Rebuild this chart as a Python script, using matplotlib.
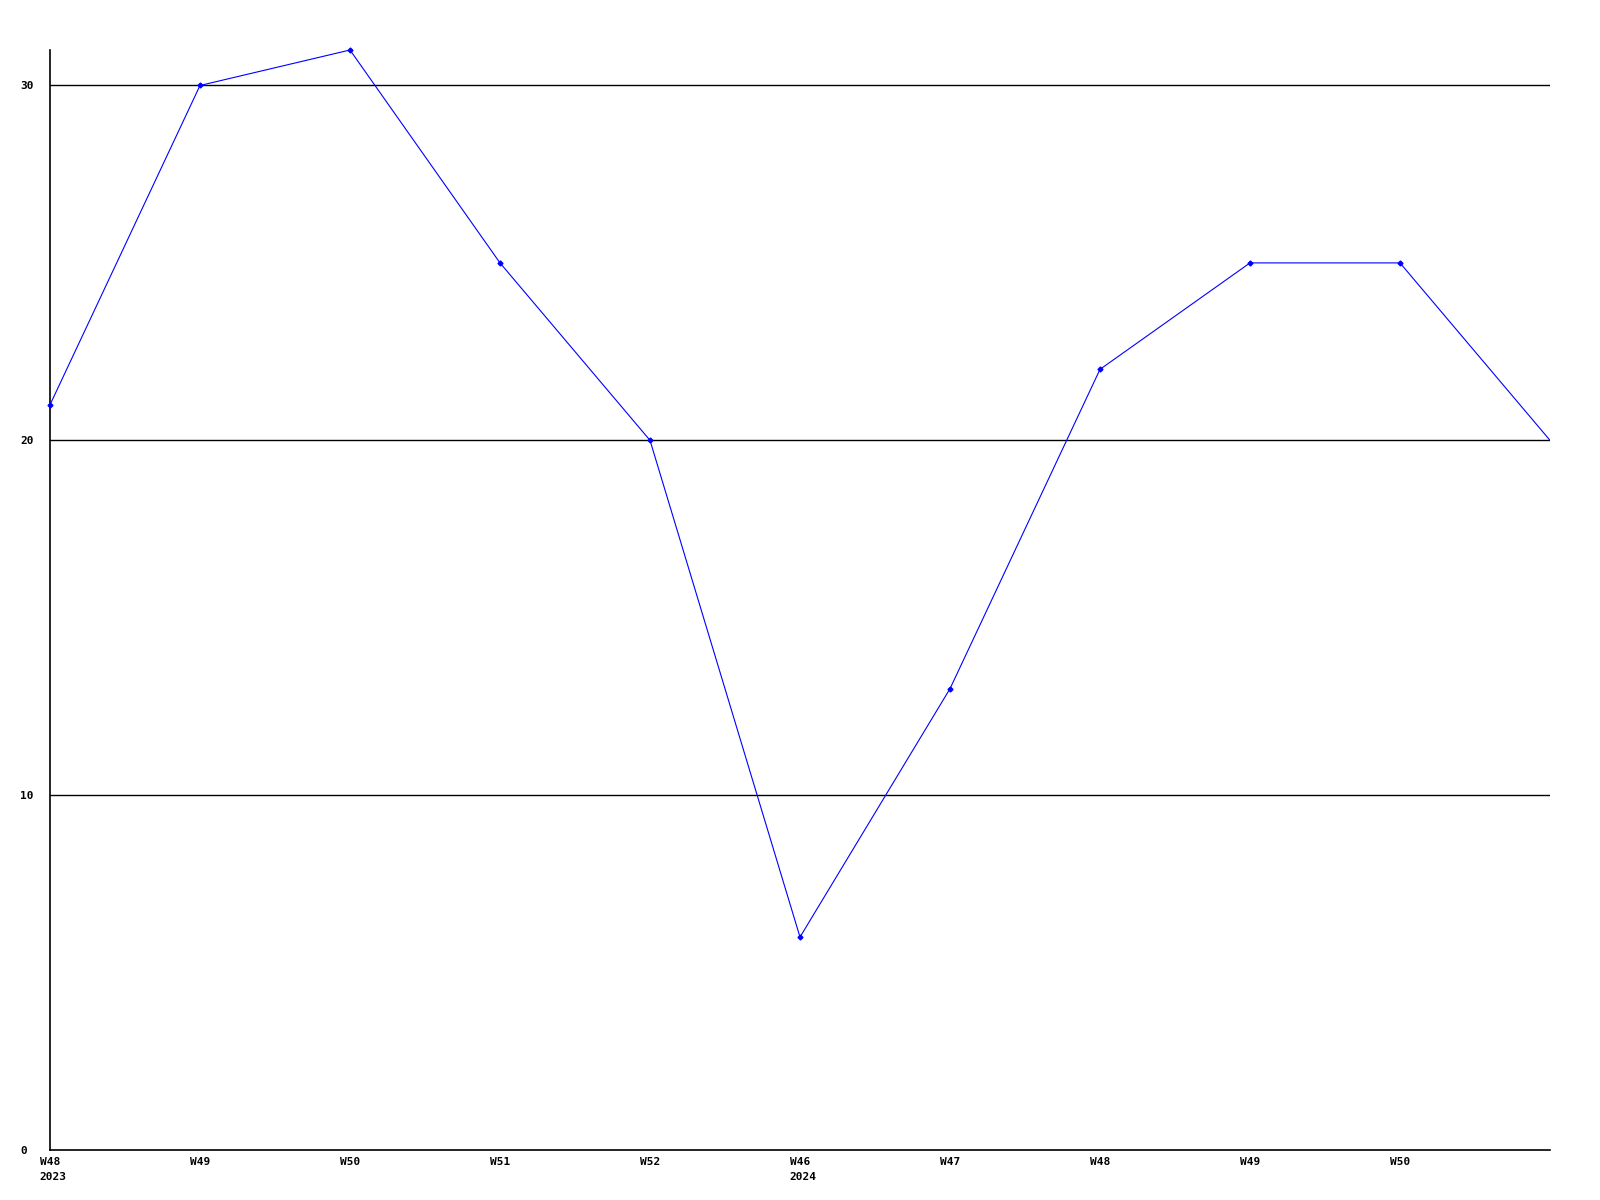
import matplotlib
matplotlib.use("Agg")
import matplotlib.pyplot as plt
import matplotlib.transforms as mtransforms

# weekly values
weeks = ["W48", "W49", "W50", "W51", "W52", "W46", "W47", "W48", "W49", "W50", ""]
years = ["2023", "", "", "", "", "2024", "", "", "", "", ""]
values = [21, 30, 31, 25, 20, 6, 13, 22, 25, 25, 20]
y_ticks = [0, 10, 20, 30]

plt.rcParams['font.family'] = ['DejaVu Sans Mono']

fig = plt.figure(figsize=(16, 12), dpi=100)
ax = fig.add_axes([50 / 1600, 50 / 1200, 1500 / 1600, 1100 / 1200])

xs = list(range(len(values)))
ax.plot(xs, values, color='#0000ff', linewidth=0.8, zorder=3)
# markers drawn unclipped so the top point is not cut off
ax.plot(xs[:-1], values[:-1], linestyle='none', color='#0000ff', marker='D',
        markersize=2.5, clip_on=False, zorder=4)

for y in y_ticks[1:]:
    ax.axhline(y, color='black', linewidth=1, zorder=1)

ax.set_xlim(0, len(values) - 1)
ax.set_ylim(0, 31)

for side in ['top', 'right']:
    ax.spines[side].set_visible(False)
for side in ['left', 'bottom']:
    ax.spines[side].set_linewidth(1.2)

# x labels: week centered on tick, year on second line aligned with week label
ax.set_xticks(xs[:-1])
ax.set_xticklabels(weeks[:-1], fontsize=8, fontweight='bold')
ax.tick_params(axis='x', length=0, pad=5)
trans = mtransforms.blended_transform_factory(ax.transData, ax.transAxes)
for x, yr in zip(xs, years):
    if yr:
        ax.annotate(yr, xy=(x, 0), xycoords=trans, xytext=(-7.5, -15.5),
                    textcoords='offset points', ha='left', va='top',
                    fontsize=8, fontweight='bold')

# y labels left aligned at the figure edge
ax.set_yticks(y_ticks)
ax.set_yticklabels([str(v) for v in y_ticks], fontsize=8, fontweight='bold')
ax.tick_params(axis='y', length=0, pad=21.5)
for lbl in ax.get_yticklabels():
    lbl.set_horizontalalignment('left')

fig.savefig("out.png", dpi=100, facecolor='white')
